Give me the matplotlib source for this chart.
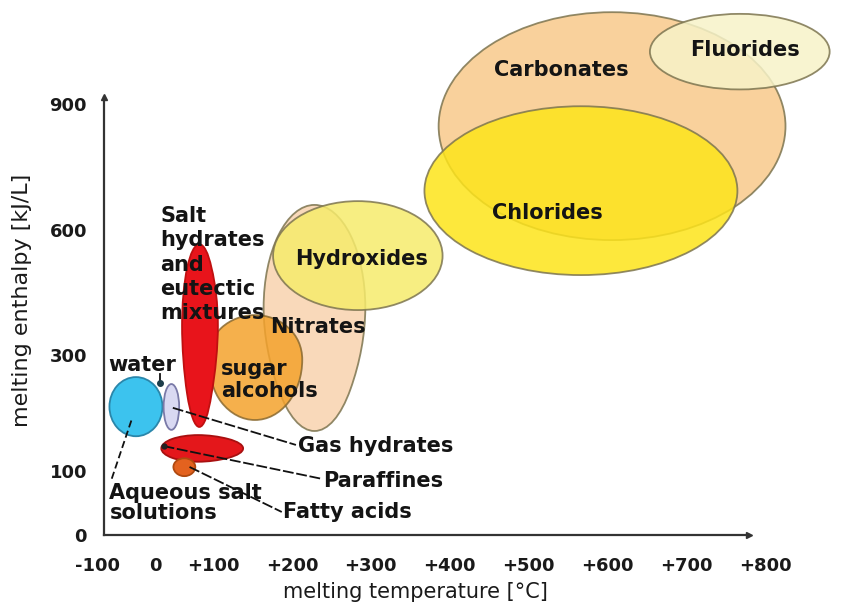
import numpy as np
import matplotlib.pyplot as plt
from matplotlib.patches import Ellipse

# groups of storage materials: ranges of melting temperature (C) and melting enthalpy (kJ/L)
groups = ['Carbonates', 'Fluorides', 'Chlorides', 'Nitrates', 'Hydroxides', 'sugar alcohols',
          'Salt hydrates', 'water', 'Gas hydrates', 'Paraffines', 'Fatty acids']
t_min = [386, 654, 368, 164, 176, 93, 46, -80, 14, 10, 31]
t_max = [826, 882, 765, 293, 391, 213, 106, 12, 41, 138, 69]
h_min = [576, 935, 492, 169, 408, 188, 176, 160, 171, 116, 92]
h_max = [1119, 1115, 895, 660, 669, 396, 566, 262, 250, 162, 122]
colores = ['#f8c98b', '#f7f3c8', '#fde41a', '#f9d3ae', '#f6eb6c', '#f4a22c',
           '#e8141b', '#3cc3ee', '#d9d9f2', '#e4171b', '#e3621f']
bordes = ['#7d7550', '#7d7550', '#7d7550', '#7d7550', '#7d7550', '#8a6a30',
          '#c01010', '#2a86aa', '#7a7aa8', '#a81010', '#b04a10']

# tick labels of the schematic axes (spacing is not uniform in the original)
x_ticks = [-100, 0, 100, 200, 300, 400, 500, 600, 700, 800]
x_labels = ['-100', '0', '+100', '+200', '+300', '+400', '+500', '+600', '+700', '+800']
y_ticks = [0, 100, 300, 600, 900]
x_knots = [-100, 0, 100, 800]
x_knot_pos = [0, 59, 118, 683]
y_knots = [0, 100, 300, 600, 900]
y_knot_pos = [0, 64, 180, 305, 431]


def escala(vals, pos):
    vals = np.asarray(vals, float)
    pos = np.asarray(pos, float)
    s0 = (pos[1] - pos[0]) / (vals[1] - vals[0])
    s1 = (pos[-1] - pos[-2]) / (vals[-1] - vals[-2])

    def fwd(v):
        v = np.asarray(v, float)
        out = np.interp(v, vals, pos)
        out = np.where(v < vals[0], pos[0] + (v - vals[0]) * s0, out)
        return np.where(v > vals[-1], pos[-1] + (v - vals[-1]) * s1, out)

    def inv(p):
        p = np.asarray(p, float)
        out = np.interp(p, pos, vals)
        out = np.where(p < pos[0], vals[0] + (p - pos[0]) / s0, out)
        return np.where(p > pos[-1], vals[-1] + (p - pos[-1]) / s1, out)

    return fwd, inv


fig = plt.figure(figsize=(8.48, 6.08), dpi=100)
ax = fig.add_axes([91 / 848, 73 / 608, (765 - 91) / 848, (535 - 97) / 608])
ax.set_xscale('function', functions=escala(x_knots, x_knot_pos))
ax.set_yscale('function', functions=escala(y_knots, y_knot_pos))
ax.set_xlim(-112, 780)
ax.set_ylim(0, 917)

# ellipses
for i in range(len(groups)):
    e = Ellipse(((t_min[i] + t_max[i]) / 2, (h_min[i] + h_max[i]) / 2),
                t_max[i] - t_min[i], h_max[i] - h_min[i],
                facecolor=colores[i], edgecolor=bordes[i], lw=1.3,
                alpha=0.85 if i < 6 else 1.0, clip_on=False, zorder=2 + i * 0.1)
    ax.add_patch(e)

# connectors
lin = dict(color='#111111', lw=1.3, zorder=5, clip_on=False)
ax.plot([7, 7], [268, 252], **lin)
ax.plot([7], [252], 'o', ms=4, color='#1d3d4a', zorder=6)
ax.plot([-76, -41], [88, 190], ls=(0, (4, 2)), **lin)
ax.plot([30, 205], [209, 145], ls=(0, (6, 1.5)), **lin)
ax.plot([14, 237], [143, 88], ls=(0, (6, 1.5)), color='#111111', lw=1.3, zorder=2.95)
ax.plot([14], [143], 'o', ms=3.5, color='#222222', zorder=6)
ax.plot([59, 187], [107, 36], ls=(0, (6, 1.5)), **lin)

# labels
txt = dict(fontsize=15, fontweight='bold', color='#141414', zorder=7)
ax.text(541, 981, 'Carbonates', ha='center', va='center', **txt)
ax.text(774, 1029, 'Fluorides', ha='center', va='center', **txt)
ax.text(524, 640, 'Chlorides', ha='center', va='center', **txt)
ax.text(288, 530, 'Hydroxides', ha='center', va='center', **txt)
ax.text(233, 367, 'Nitrates', ha='center', va='center', **txt)
ax.text(110, 257, 'sugar\nalcohols', ha='left', va='center', linespacing=1.1, **txt)
ax.text(8, 517, 'Salt\nhydrates\nand\neutectic\nmixtures', ha='left', va='center',
        linespacing=1.27, **txt)
ax.text(-24, 283, 'water', ha='center', va='center', **txt)
ax.text(-80, 50, 'Aqueous salt\nsolutions', ha='left', va='center', linespacing=0.95, **txt)
ax.text(208, 143, 'Gas hydrates', ha='left', va='center', **txt)
ax.text(239, 84, 'Paraffines', ha='left', va='center', **txt)
ax.text(189, 36, 'Fatty acids', ha='left', va='center', **txt)

# axes with arrows
for s in ['top', 'right']:
    ax.spines[s].set_visible(False)
ax.spines['left'].set_position(('data', -90))
ax.spines['bottom'].set_bounds(-90, 780)
for s in ['left', 'bottom']:
    ax.spines[s].set_color('#333333')
    ax.spines[s].set_linewidth(1.6)
ax.plot([780], [0], '>', ms=5, color='#333333', clip_on=False, zorder=8)
ax.plot([-90], [917], '^', ms=5, color='#333333', clip_on=False, zorder=8)

ax.set_xticks(x_ticks)
ax.set_xticklabels(x_labels)
ax.set_yticks(y_ticks)
ax.set_yticklabels([str(v) for v in y_ticks])
ax.tick_params(axis='both', length=0, labelsize=13, colors='#1a1a1a')
ax.tick_params(axis='x', pad=16)
ax.tick_params(axis='y', pad=12)
for t in ax.get_xticklabels() + ax.get_yticklabels():
    t.set_fontweight('bold')
ax.xaxis.set_minor_locator(plt.NullLocator())
ax.yaxis.set_minor_locator(plt.NullLocator())

fig.text(415 / 848, 1 - 592 / 608, 'melting temperature [°C]', ha='center', va='center',
         fontsize=15, color='#1a1a1a')
fig.text(22 / 848, 1 - 300 / 608, 'melting enthalpy [kJ/L]', ha='center', va='center',
         rotation=90, fontsize=16, color='#1a1a1a')

fig.savefig('out.png', dpi=100)
